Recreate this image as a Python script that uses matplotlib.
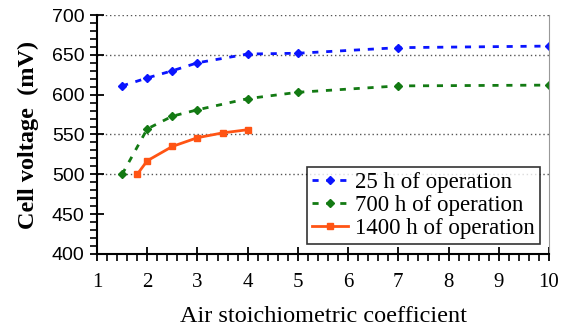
import matplotlib
matplotlib.use("Agg")
import matplotlib.pyplot as plt
from matplotlib.ticker import MultipleLocator

# Air stoichiometry vs. cell voltage at three operating ages
x_25h = [1.5, 2, 2.5, 3, 4, 5, 7, 10]
v_25h = [611, 621, 630, 640, 651, 652, 659, 661]

x_700h = [1.5, 2, 2.5, 3, 4, 5, 7, 10]
v_700h = [500, 557, 573, 581, 595, 603, 611, 612]

x_1400h = [1.8, 2, 2.5, 3, 3.5, 4]
v_1400h = [500, 517, 535, 546, 552, 556]

labels = ["25 h of operation", "700 h of operation", "1400 h of operation"]
grid_levels = [500, 550, 650, 700]

plt.rcParams["font.family"] = ["Liberation Serif", "DejaVu Serif"]

fig = plt.figure(figsize=(5.65, 3.29), dpi=100)
ax = fig.add_axes([0.1717, 0.228, 0.80, 0.7264])

ax.plot(x_25h, v_25h, color="#0a14ff", lw=2, ls=(0, (2.2, 2.8)),
        marker="D", ms=4.5, label=labels[0])
ax.plot(x_700h, v_700h, color="#137a13", lw=2, ls=(0, (2.2, 2.8)),
        marker="D", ms=4.5, label=labels[1])
ax.plot(x_1400h, v_1400h, color="#ff5414", lw=2, ls="-",
        marker="s", ms=4, label=labels[2])

for g in grid_levels:
    ax.axhline(g, color="#555555", lw=1.0, ls=(0, (1, 2)), zorder=0)

ax.set_xlim(1, 10)
ax.set_ylim(400, 700)
ax.xaxis.set_major_locator(MultipleLocator(1))
ax.xaxis.set_minor_locator(MultipleLocator(0.2))
ax.yaxis.set_major_locator(MultipleLocator(50))
ax.yaxis.set_minor_locator(MultipleLocator(10))

ax.spines["top"].set_visible(False)
ax.spines["right"].set_color("#999999")
ax.spines["left"].set_linewidth(1.5)
ax.spines["bottom"].set_linewidth(1.5)

ax.tick_params(axis="both", which="major", direction="inout", length=10,
               width=1.3)
ax.tick_params(axis="both", which="minor", direction="out", length=5, width=1.2)
ax.tick_params(axis="x", which="major", pad=9, labelsize=15)
ax.tick_params(axis="y", which="major", pad=4, labelsize=14)
for t in ax.get_yticklabels():
    t.set_fontfamily(["Liberation Sans", "DejaVu Sans"])

ax.set_xlabel("Air stoichiometric coefficient", fontsize=17.5, labelpad=10)
ax.set_ylabel("Cell voltage  (mV)", fontsize=17.5, fontweight="bold", labelpad=9)

leg = ax.legend(loc="lower right", bbox_to_anchor=(0.98, 0.04), fontsize=16.5,
                frameon=True, fancybox=False, edgecolor="black",
                handlelength=1.6, handletextpad=0.3, borderpad=0.22,
                labelspacing=0.1, borderaxespad=0)
leg.get_frame().set_linewidth(1.2)

fig.savefig("out.png", dpi=100)
